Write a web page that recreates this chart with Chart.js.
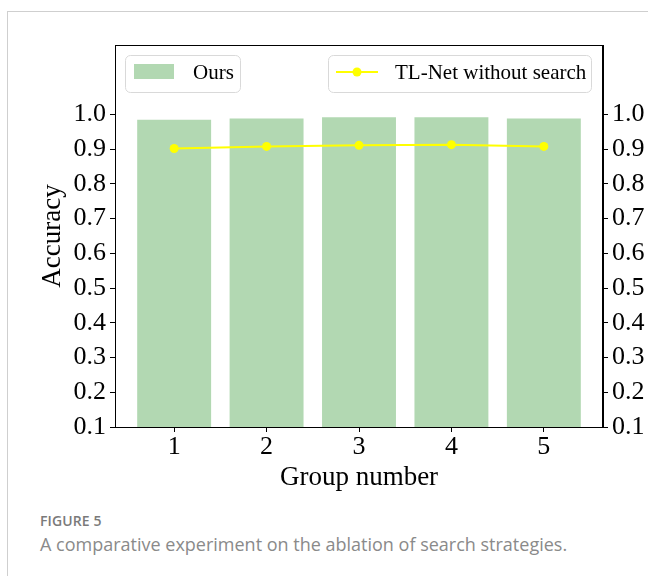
<!DOCTYPE html>
<html>
<head>
<meta charset="utf-8">
<script src="https://cdn.jsdelivr.net/npm/chart.js@4/dist/chart.umd.min.js"></script>
<style>
  html, body { margin: 0; padding: 0; background: #fff; }
  body { width: 648px; height: 576px; position: relative; overflow: hidden; }
  #card { position: absolute; left: 7px; top: 11px; width: 700px; height: 700px;
          border-left: 1px solid #cfcfcf; border-top: 1px solid #cfcfcf; }
  #wrap { position: absolute; left: 0; top: 0; width: 648px; height: 500px; }
  .cap1 { position: absolute; left: 40px; top: 511px; font: 600 14px "Open Sans", sans-serif;
          color: #7a7a7a; letter-spacing: 0.1px; }
  .cap2 { position: absolute; left: 40px; top: 532px; font: 18px "Open Sans", sans-serif;
          color: #8a8a8a; }
</style>
</head>
<body>
<div id="card"></div>
<div id="wrap"><canvas id="c" width="648" height="500"></canvas></div>
<div class="cap1">FIGURE 5</div>
<div class="cap2">A comparative experiment on the ablation of search strategies.</div>
<script>
// Group numbers on the x axis
const groups = [1, 2, 3, 4, 5];
// Accuracy of our method per group
const oursAcc = [0.985, 0.988, 0.992, 0.992, 0.988];
// Accuracy of TL-Net without the search strategy
const tlnetAcc = [0.902, 0.908, 0.911, 0.913, 0.908];
// Tick values shown on both y axes
const yTicks = [0.1, 0.2, 0.3, 0.4, 0.5, 0.6, 0.7, 0.8, 0.9, 1.0];

const SERIF = '"Liberation Serif", "Times New Roman", serif';
const barColor = '#b2d8b2';
const lineColor = '#ffff00';

// frame around the plotting area
const framePlugin = {
  id: 'frame',
  afterDatasetsDraw(chart) {
    const { ctx, chartArea: a } = chart;
    ctx.save();
    ctx.strokeStyle = '#000';
    ctx.lineWidth = 1;
    ctx.strokeRect(Math.round(a.left) + 0.5, Math.round(a.top) + 0.5,
                   Math.round(a.right - a.left) - 1, Math.round(a.bottom - a.top));
    ctx.restore();
  }
};

// two separate legend boxes: bars at upper left, line at upper right
const twoLegends = {
  id: 'twoLegends',
  afterDraw(chart) {
    const { ctx } = chart;
    const ds = chart.data.datasets;
    const box = (x, y, w, h) => {
      const r = 5;
      ctx.beginPath();
      ctx.moveTo(x + r, y);
      ctx.arcTo(x + w, y, x + w, y + h, r);
      ctx.arcTo(x + w, y + h, x, y + h, r);
      ctx.arcTo(x, y + h, x, y, r);
      ctx.arcTo(x, y, x + w, y, r);
      ctx.closePath();
      ctx.fillStyle = 'rgba(255,255,255,0.8)';
      ctx.fill();
      ctx.strokeStyle = '#d9d9d9';
      ctx.lineWidth = 1;
      ctx.stroke();
    };
    ctx.save();
    ctx.font = '21px ' + SERIF;
    ctx.textBaseline = 'middle';
    ctx.fillStyle = '#000';

    // left box
    box(125.5, 55.5, 115, 37);
    ctx.fillStyle = ds[0].backgroundColor;
    ctx.fillRect(134, 64, 40, 15);
    ctx.fillStyle = '#000';
    ctx.fillText(ds[0].label, 193, 73);

    // right box
    box(328.5, 55.5, 263, 37);
    ctx.strokeStyle = ds[1].borderColor;
    ctx.lineWidth = 2;
    ctx.beginPath();
    ctx.moveTo(336, 72);
    ctx.lineTo(378, 72);
    ctx.stroke();
    ctx.fillStyle = ds[1].pointBackgroundColor;
    ctx.beginPath();
    ctx.arc(357, 72, 4.5, 0, Math.PI * 2);
    ctx.fill();
    ctx.fillStyle = '#000';
    ctx.fillText(ds[1].label, 395, 73);
    ctx.restore();
  }
};

const yAxisCommon = {
  type: 'linear',
  min: 0.1,
  max: 1.2,
  afterBuildTicks(scale) { scale.ticks = yTicks.map(v => ({ value: v })); },
  ticks: {
    color: '#000',
    font: { family: SERIF, size: 26 },
    padding: 4,
    callback: v => v.toFixed(1)
  },
  grid: { drawOnChartArea: false, drawTicks: true, tickLength: 5, tickColor: '#000' },
  border: { display: true, color: '#000', width: 1 }
};

new Chart(document.getElementById('c'), {
  data: {
    datasets: [
      {
        type: 'bar',
        label: 'Ours',
        data: groups.map((g, i) => ({ x: g, y: oursAcc[i] })),
        backgroundColor: barColor,
        borderWidth: 0,
        barPercentage: 0.8,
        categoryPercentage: 1.0,
        order: 2
      },
      {
        type: 'line',
        label: 'TL-Net without search',
        data: groups.map((g, i) => ({ x: g, y: tlnetAcc[i] })),
        borderColor: lineColor,
        borderWidth: 2,
        pointRadius: 4.5,
        pointBackgroundColor: lineColor,
        pointBorderColor: lineColor,
        pointBorderWidth: 0,
        tension: 0,
        order: 1
      }
    ]
  },
  options: {
    responsive: false,
    animation: false,
    devicePixelRatio: 1,
    layout: { padding: { top: 45, left: 37, right: 0, bottom: 0 } },
    plugins: { legend: { display: false }, tooltip: { enabled: false } },
    scales: {
      x: {
        type: 'linear',
        offset: false,
        min: 0.36,
        max: 5.64,
        afterBuildTicks(scale) { scale.ticks = groups.map(v => ({ value: v })); },
        ticks: { color: '#000', font: { family: SERIF, size: 26 }, padding: 0 },
        grid: { offset: false, drawOnChartArea: false, drawTicks: true, tickLength: 5, tickColor: '#000' },
        border: { display: true, color: '#000', width: 1 },
        title: { display: true, text: 'Group number', color: '#000',
                 font: { family: SERIF, size: 27 }, padding: { top: 0, bottom: 6 } },
        afterFit(scale) { scale.height = 73; }
      },
      y: Object.assign({}, yAxisCommon, {
        position: 'left',
        title: { display: true, text: 'Accuracy', color: '#000',
                 font: { family: SERIF, size: 27 }, padding: 0 },
        afterFit(scale) { scale.width = 78; }
      }),
      y2: Object.assign({}, yAxisCommon, {
        position: 'right',
        afterFit(scale) { scale.width = 45; }
      })
    }
  },
  plugins: [framePlugin, twoLegends]
});
</script>
</body>
</html>
